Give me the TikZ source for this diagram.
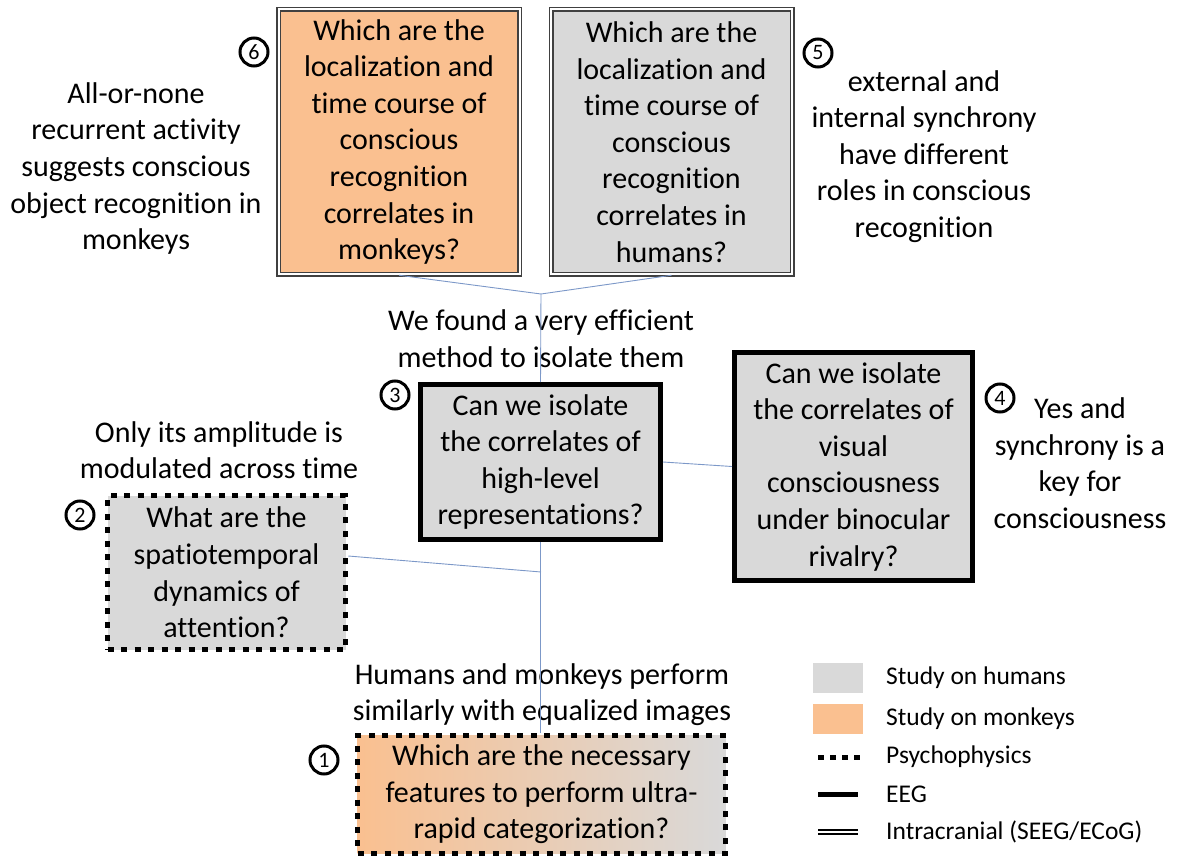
\documentclass[tikz,border=0pt]{standalone}
\usepackage{fontspec}
\setmainfont[Ligatures=NoCommon]{Carlito}
\usepackage{xcolor}
\usepackage{tikz}
\usetikzlibrary{
  arrows.meta,
  positioning,
  calc
}
\definecolor{monkey}{RGB}{250,192,144}
\definecolor{human}{RGB}{217,217,217}
\definecolor{link}{RGB}{124,152,200}

\begin{document}
\begin{tikzpicture}[
  x=1pt,y=-1pt,
  n/.style={rectangle,align=center,inner sep=0pt,font=\fontsize{30}{36.6}\selectfont},
  ic/.style={n,draw=black!75,double=white,line width=1.5pt,double distance=2pt},
  eeg/.style={n,draw,line width=5pt},
  psy/.style={n,draw,line width=5.5pt,dash pattern=on 6pt off 7.5pt},
  txt/.style={align=center,inner sep=0pt,font=\fontsize{30}{36.6}\selectfont},
  num/.style={circle,draw,line width=3pt,minimum size=28pt,inner sep=0pt,font=\fontsize{22}{22}\selectfont},
  lg/.style={anchor=west,inner sep=0pt,font=\fontsize{25.5}{30}\selectfont},
  sw/.style={rectangle,minimum width=50,minimum height=30,inner sep=0pt},
  a/.style={draw=link,line width=0.9pt}
]
\useasboundingbox (0,0) rectangle (1179,861);
\node[ic,fill=monkey,minimum width=241,minimum height=265] (monkeyloc) at (399,142) {Which are the\\localization and\\time course of\\conscious\\recognition\\correlates in\\monkeys?};
\node[ic,fill=human,minimum width=241,minimum height=265] (humanloc) at (671.5,142) {Which are the\\localization and\\time course of\\conscious\\recognition\\correlates in\\humans?};
\node[eeg,fill=human,minimum width=240,minimum height=155] (highlevel) at (540.5,462) {Can we isolate\\the correlates of\\high-level\\representations?};
\node[eeg,fill=human,minimum width=238,minimum height=228] (rivalry) at (853.5,466.5) {Can we isolate\\the correlates of\\visual\\consciousness\\under binocular\\rivalry?};
\node[psy,fill=human,minimum width=238,minimum height=154] (attention) at (226.5,572.5) {What are the\\spatiotemporal\\dynamics of\\attention?};
\node[psy,left color=monkey,right color=human,minimum width=368,minimum height=118] (features) at (541.5,794.5) {Which are the necessary\\features to perform ultra-\\rapid categorization?};
\node[num] (num6) at (254,52) {6};
\node[num] (num5) at (818,53) {5};
\node[num] (num3) at (395,395) {3};
\node[num] (num4) at (1000,398) {4};
\node[num] (num2) at (80,515) {2};
\node[num] (num1) at (324,760) {1};
\node[txt] (allornone) at (136,168.5) {All-or-none\\recurrent activity\\suggests conscious\\object recognition in\\monkeys};
\node[txt] (roles) at (924,156.5) {external and\\internal synchrony\\have different\\roles in conscious\\recognition};
\node[txt] (efficient) at (541,338.5) {We found a very efficient\\method to isolate them};
\node[txt] (amplitude) at (219,450) {Only its amplitude is\\modulated across time};
\node[txt] (keyfor) at (1080,463) {Yes and\\synchrony is a\\key for\\consciousness};
\node[txt] (similar) at (542,694.5) {Humans and monkeys perform\\similarly with equalized images};
\coordinate (fork) at (541,294);
\coordinate (split) at (541,572);
\draw[a] (monkeyloc.south) -- (fork) -- (humanloc.south);
\draw[a] (fork) -- (highlevel.north);
\draw[a] (highlevel.south) -- (highlevel.south |- features.north);
\draw[a] ([yshift=16.5pt]attention.east) -- (split);
\draw[a] (highlevel.east) -- (rivalry.west);
\node[sw,fill=human] (keyhuman) at (838,678) {};
\node[sw,fill=monkey] (keymonkey) at (838,718.5) {};
\node[lg] (keyhumantxt) at (886,678) {Study on humans};
\node[lg] (keymonkeytxt) at (886,719) {Study on monkeys};
\node[lg] (keypsy) at (886,757) {Psychophysics};
\node[lg] (keyeeg) at (886,794) {EEG};
\node[lg] (keyic) at (886,832) {Intracranial (SEEG/ECoG)};
\draw[line width=5pt,dash pattern=on 6pt off 6pt] ([xshift=-68pt]keypsy.west) -- ([xshift=-26pt]keypsy.west);
\draw[line width=5pt] ([xshift=-68pt]keyeeg.west) -- ([xshift=-28pt]keyeeg.west);
\draw[double=white,line width=1.5pt,double distance=2.5pt] ([xshift=-68pt]keyic.west) -- ([xshift=-28pt]keyic.west);
\end{tikzpicture}
\end{document}
